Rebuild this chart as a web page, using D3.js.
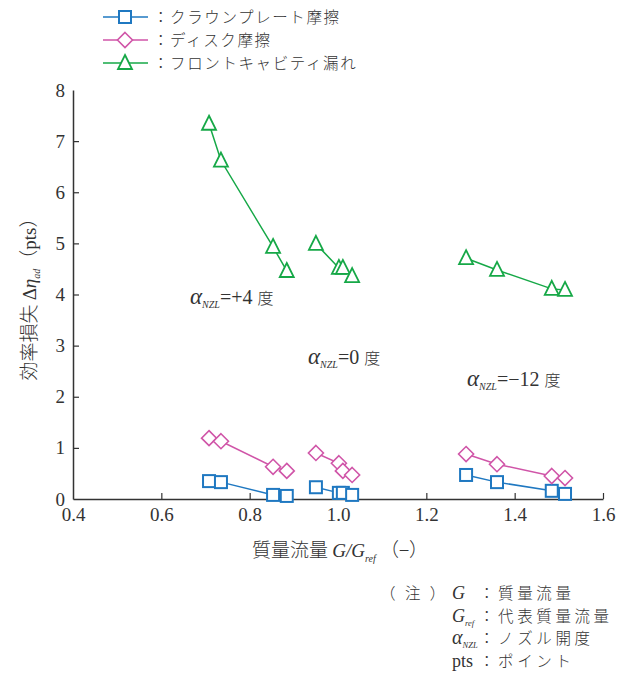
<!DOCTYPE html>
<html>
<head>
<meta charset="utf-8">
<script src="https://cdn.jsdelivr.net/npm/d3@7"></script>
<style>
  body { margin: 0; background: #fff; }
  svg text { fill: #333; }
</style>
</head>
<body>
<div id="chart"></div>
<script>
// three operating groups (nozzle angle +4, 0, -12 deg), flow ratio G/Gref
const groupX = [
  [0.708, 0.735, 0.853, 0.884],
  [0.950, 1.002, 1.011, 1.032],
  [1.290, 1.360, 1.484, 1.514]
];
// efficiency loss (pts) per group
const crownPlate = [
  [0.35, 0.33, 0.08, 0.06],
  [0.23, 0.12, 0.12, 0.08],
  [0.47, 0.33, 0.16, 0.10]
];
const diskFriction = [
  [1.19, 1.13, 0.63, 0.55],
  [0.90, 0.70, 0.55, 0.47],
  [0.88, 0.68, 0.45, 0.41]
];
const frontCavity = [
  [7.34, 6.62, 4.93, 4.46],
  [4.99, 4.52, 4.52, 4.36],
  [4.71, 4.48, 4.11, 4.09]
];
const seriesNames = ["：クラウンプレート摩擦", "：ディスク摩擦", "：フロントキャビティ漏れ"];
const xTicks = [0.4, 0.6, 0.8, 1.0, 1.2, 1.4, 1.6];
const yTicks = [0, 1, 2, 3, 4, 5, 6, 7, 8];

const SERIF = '"Liberation Serif", "DejaVu Serif", serif';
const JP = '"Noto Sans CJK JP", sans-serif';

const W = 617, H = 674;
const margin = { top: 90, right: 14, bottom: 175, left: 73 };
const width = W - margin.left - margin.right;
const height = H - margin.top - margin.bottom;

const svg = d3.select("#chart").append("svg")
  .attr("width", W).attr("height", H);

const g = svg.append("g").attr("transform", `translate(${margin.left},${margin.top})`);

const x = d3.scaleLinear().domain([0.4, 1.6]).range([0, width]);
const y = d3.scaleLinear().domain([0, 8]).range([height, 0]);

// Axes (ticks pointing inward)
const xAxis = g.append("g").attr("transform", `translate(0,${height})`)
  .call(d3.axisBottom(x).tickValues(xTicks).tickFormat(d3.format(".1f")).tickSizeInner(-6).tickSizeOuter(0).tickPadding(9));
const yAxis = g.append("g")
  .call(d3.axisLeft(y).tickValues(yTicks).tickFormat(d3.format("d")).tickSizeInner(-6).tickSizeOuter(0).tickPadding(8));
[xAxis, yAxis].forEach(a => {
  a.attr("font-family", null).attr("font-size", null);
  a.select(".domain").attr("stroke", "#333").attr("stroke-width", 1.5);
  a.selectAll(".tick line").attr("stroke", "#333").attr("stroke-width", 1.2);
  a.selectAll(".tick text").style("font-family", SERIF).style("font-size", "19px").attr("fill", "#333");
});
yAxis.selectAll(".tick").filter(d => d === 0 || d === 8).select("line").remove();
xAxis.selectAll(".tick").filter(d => d === 0.4).select("line").remove();

// Markers
const sq = 12, di = 7.5, tr = 7;
function drawMarker(sel, type, color) {
  if (type === "square") {
    sel.append("rect").attr("x", -sq / 2).attr("y", -sq / 2).attr("width", sq).attr("height", sq)
      .attr("fill", "#fff").attr("stroke", color).attr("stroke-width", 2);
  } else if (type === "diamond") {
    sel.append("path").attr("d", `M0,${-di}L${di},0L0,${di}L${-di},0Z`)
      .attr("fill", "#fff").attr("stroke", color).attr("stroke-width", 1.6);
  } else {
    sel.append("path").attr("d", `M0,${-tr - 1}L${tr},${tr - 1}L${-tr},${tr - 1}Z`)
      .attr("fill", "#fff").attr("stroke", color).attr("stroke-width", 1.8);
  }
}

const series = [
  { data: crownPlate, type: "square", color: "#1f78c1" },
  { data: diskFriction, type: "diamond", color: "#d055a8" },
  { data: frontCavity, type: "triangle", color: "#16a847" }
];

const line = d3.line().x(d => x(d[0])).y(d => y(d[1]));

series.forEach(s => {
  s.data.forEach((vals, gi) => {
    const pts = vals.map((v, i) => [groupX[gi][i], v]);
    g.append("path").datum(pts).attr("d", line)
      .attr("fill", "none").attr("stroke", s.color).attr("stroke-width", 1.5);
    g.selectAll(null).data(pts).enter().append("g")
      .attr("transform", d => `translate(${x(d[0])},${y(d[1])})`)
      .each(function () { drawMarker(d3.select(this), s.type, s.color); });
  });
});

// Legend
series.forEach((s, i) => {
  const ly = 17 + i * 23;
  svg.append("line").attr("x1", 103).attr("x2", 148).attr("y1", ly).attr("y2", ly)
    .attr("stroke", s.color).attr("stroke-width", 1.5);
  const m = svg.append("g").attr("transform", `translate(125,${ly})`);
  drawMarker(m, s.type, s.color);
  svg.append("text").style("font-family", JP).attr("x", 153).attr("y", ly + 6)
    .style("font-size", "15.5px").style("letter-spacing", "1.6px").style("font-weight", 300).text(seriesNames[i]);
});

// Nozzle-angle annotations
function alphaLabel(px, py, val) {
  const t = svg.append("text").attr("x", px).attr("y", py).style("font-family", SERIF).style("font-size", "20px");
  t.append("tspan").style("font-style", "italic").style("font-size", "23px").text("α");
  t.append("tspan").style("font-style", "italic").style("font-size", "10px").attr("dy", 4).text("NZL");
  t.append("tspan").attr("dy", -4).text("=" + val + " ");
  t.append("tspan").style("font-family", JP).style("font-size", "16px").style("font-weight", 300).text("度");
}
alphaLabel(190, 304, "+4");
alphaLabel(308, 364, "0");
alphaLabel(467, 386, "−12");

// Y axis title
const yt = svg.append("text").attr("transform", `translate(36,${margin.top + height / 2}) rotate(-90)`)
  .attr("text-anchor", "middle").style("font-size", "19px").style("font-family", SERIF);
yt.append("tspan").style("font-family", JP).style("font-weight", 300).text("効率損失 ");
yt.append("tspan").text("Δ");
yt.append("tspan").style("font-style", "italic").text("η");
yt.append("tspan").style("font-style", "italic").style("font-size", "10px").attr("dy", 4).text("ad");
yt.append("tspan").attr("dy", -4).style("font-family", JP).style("font-weight", 300).text("（");
yt.append("tspan").text("pts");
yt.append("tspan").style("font-family", JP).style("font-weight", 300).text("）");

// X axis title
const xt = svg.append("text").attr("x", 252).attr("y", 557).style("font-size", "19px").style("font-family", SERIF);
xt.append("tspan").style("font-family", JP).style("font-weight", 300).text("質量流量 ");
xt.append("tspan").style("font-style", "italic").text("G/G");
xt.append("tspan").style("font-style", "italic").style("font-size", "10px").attr("dy", 5).text("ref");
xt.append("tspan").style("font-family", JP).style("font-weight", 300).attr("dy", -5).text(" （−）");

// Notes
svg.append("text").style("font-family", JP).style("font-weight", 300).attr("x", 380).attr("y", 599)
  .style("font-size", "15.5px").style("letter-spacing", "3px").text("（ 注 ）");
const noteRows = [
  ["G", "", "：質量流量"],
  ["G", "ref", "：代表質量流量"],
  ["α", "NZL", "：ノズル開度"],
  ["pts", "", "：ポイント"]
];
noteRows.forEach((r, i) => {
  const ny = 599 + i * 22.7;
  const t = svg.append("text").attr("x", 452).attr("y", ny).style("font-size", "18px").style("font-family", SERIF);
  const main = t.append("tspan").text(r[0]);
  if (r[0] !== "pts") main.style("font-style", "italic");
  if (r[0] === "α") main.style("font-size", "20px");
  if (r[1]) t.append("tspan").style("font-style", "italic").style("font-size", "8.5px").attr("dy", 4).text(r[1]);
  svg.append("text").style("font-family", JP).style("font-weight", 300).attr("x", 479).attr("y", ny)
    .style("font-size", "15.5px").style("letter-spacing", "3.6px").text(r[2]);
});
</script>
</body>
</html>
